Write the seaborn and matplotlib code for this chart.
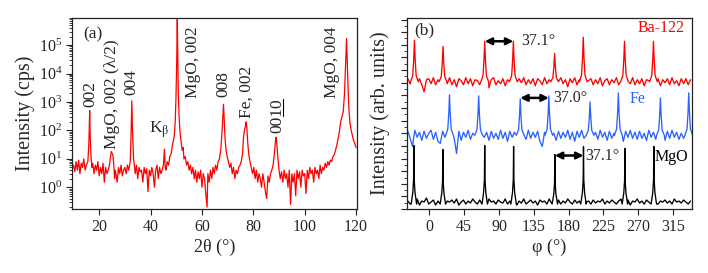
import numpy as np
import pandas as pd
import matplotlib
matplotlib.use("Agg")
import matplotlib.pyplot as plt
import seaborn as sns
from matplotlib.ticker import MultipleLocator, AutoMinorLocator, LogLocator, NullFormatter
from matplotlib.transforms import blended_transform_factory
from matplotlib.lines import Line2D

# ---------------- panel (a): 2theta scan ----------------
two_theta = [10.0, 10.5, 11.0, 11.5, 12.0, 12.5, 13.0, 13.5, 14.0, 14.5, 15.0,
             15.6, 16.0, 16.3, 16.5, 16.8, 17.2,
             17.5, 18.0, 18.5, 19.0, 19.5, 20.0, 20.5, 21.0, 21.5, 22.0, 22.5, 23.0, 23.5, 24.0,
             24.3, 24.7, 25.0, 25.3, 25.7, 26.0, 26.3,
             26.5, 27.0, 27.5, 28.0, 28.5, 29.0, 29.5, 30.0, 30.5, 31.0, 31.5,
             32.1, 32.4, 32.7, 33.0, 33.4, 33.8,
             34.0, 34.5, 35.0, 35.5, 36.0, 36.5, 37.0, 37.5, 38.0, 38.5, 39.0, 39.5, 40.0, 40.5,
             41.0, 41.5, 42.0, 42.5, 43.0, 43.5, 44.0, 44.5,
             45.0, 45.4, 45.7, 46.0, 46.5, 47.0, 47.5, 48.0, 48.5,
             49.2, 49.6, 49.9, 50.2, 50.4, 50.6, 50.8, 51.1, 51.5, 51.9, 52.3,
             52.7, 53.0, 53.5, 54.0, 54.5, 55.0, 55.5, 56.0, 56.5, 57.0, 57.5, 58.0, 58.5, 59.0,
             59.5, 60.0, 60.5, 61.0, 61.5, 62.0, 62.3, 62.8, 63.3, 63.8, 64.3, 64.8, 65.3, 65.8,
             66.3, 66.8, 67.3, 67.7, 68.1, 68.4, 68.7, 69.0, 69.4, 69.8,
             70.3, 70.8, 71.3, 71.8, 72.3, 72.8, 73.3, 73.8, 74.3, 74.8, 75.3, 75.8,
             76.2, 76.6, 77.0, 77.2, 77.5, 77.8, 78.2, 78.7,
             79.2, 79.7, 80.2, 80.7, 81.2, 81.7, 82.2, 82.7, 83.2, 83.7, 84.2, 84.7, 85.2, 85.7,
             86.2, 86.7, 87.2, 87.7, 88.2, 88.6, 88.9, 89.2, 89.6,
             90.0, 90.5, 91.0, 91.5, 92.0, 92.5, 93.0, 93.5, 94.0, 94.5, 95.0, 95.5, 96.0, 96.5,
             97.0, 97.5, 98.0, 98.5, 99.0, 99.5, 100.0, 100.5, 101.0, 101.5, 102.0, 102.5, 103.0,
             103.5, 104.0, 104.5, 105.0, 105.5, 106.0, 106.5, 107.0, 107.5, 108.0, 108.5, 109.0,
             109.5, 110.0, 110.5, 111.0, 111.5, 112.0, 112.5, 113.0, 113.5, 114.0, 114.5, 115.0,
             115.5, 115.9, 116.3, 116.6, 116.9, 117.2, 117.6, 118.0, 118.5, 119.0, 119.5, 120.0]
intensity = [6, 3.5, 8, 4, 9, 3, 7, 5, 10, 4, 6,
             8, 40, 500, 60, 12, 5,
             7, 3, 6, 4, 8, 2.5, 5, 3, 7, 1.5, 5, 3, 4, 6,
             10, 18, 16, 14, 6, 2, 4,
             3, 1.5, 5, 3, 6, 2.5, 4, 5, 3, 6, 4,
             8, 60, 1100, 80, 10, 5,
             3, 6, 2, 5, 3.5, 4, 1.5, 5, 3, 4.5, 0.7, 4, 2.5, 5,
             3, 1, 4, 6, 2, 5, 3, 4,
             6, 22, 5, 4, 8, 6, 12, 15, 30,
             60, 200, 1500, 30000, 800000, 30000, 2000, 300, 80, 40, 20,
             25, 10, 12, 6, 8, 4, 6, 3, 5, 2, 4, 1.5, 3.5, 2,
             4, 1, 3, 2, 0.6, 0.2, 3, 1.5, 4, 2, 5, 3, 6, 4,
             8, 10, 20, 60, 250, 830, 200, 50, 20, 12,
             8, 5, 7, 3, 5, 2, 4, 3, 5, 6, 8, 15,
             60, 110, 150, 200, 120, 40, 15, 8,
             5, 3, 5, 2, 4, 1.5, 3, 2, 1, 3, 1.5, 0.7, 0.4, 2.5,
             1.5, 3, 4, 6, 15, 40, 58, 30, 10,
             4, 2, 3.5, 1.5, 4, 2, 3, 1, 4, 0.25, 3, 1.5, 3, 0.5,
             4, 2, 3.5, 1, 4, 2.5, 3, 0.6, 4, 2, 5, 3, 4,
             1.5, 5, 3, 4, 2, 6, 3, 5, 4, 7, 5, 8,
             6, 9, 8, 12, 14, 20, 30, 50, 90, 200, 300, 450,
             2000, 20000, 170000, 20000, 3000, 600, 200, 110, 70, 45, 35, 25]

# reflection labels: text, 2theta position, bottom of label in axes fraction
a_labels = ["002", "MgO, 002 (λ/2)", "004", "MgO, 002", "008", "Fe, 002", "MgO, 004"]
a_label_x = [16.4, 25.1, 32.6, 56.6, 68.2, 77.5, 110.7]
a_label_y = [0.534, 0.314, 0.597, 0.581, 0.586, 0.476, 0.581]

# ---------------- panel (b): phi scans ----------------
phi_grid = np.arange(-28, 340, 3.0)

red_noise = [0.3, -0.2, 0.4, -0.4, 0.1, 0.3, -0.3, -1.0, 0.2, 0.3,
             -0.2, 0.4, -0.3, 0.2, 0.3, -0.4, 0.1, -0.2, 0.4, -0.3,
             0.2, -0.5, 0.3, 0.1, -0.3, 0.4, -0.2, 0.3, -0.4, 0.2,
             0.1, -0.3, 0.4, -0.2, 0.3, -0.6, 0.2, 0.4, -0.3, 0.1,
             -0.2, 0.3, -0.4, 0.2, 0.4, -0.3, 0.1, -0.5, 0.3, -0.1,
             0.4, -0.3, 0.2, -0.2, 0.3, -0.4, 0.3, 0.1, -0.3, 0.4,
             -0.2, 0.2, -0.4, 0.3, 0.1, -0.3, 0.4, -0.2, 0.2, -0.5,
             0.3, -0.1, 0.4, -0.3, 0.2, -0.2, 0.3, -0.4, 0.1, 0.3,
             -0.3, 0.2, -0.2, 0.4, -0.4, 0.1, 0.3, -0.3, 0.2, -0.1,
             0.4, -0.3, 0.2, -0.5, 0.3, 0.1, -0.2, 0.4, -0.3, 0.2,
             -0.2, 0.3, -0.4, 0.2, 0.1, -0.3, 0.4, -0.2, 0.3, -0.4,
             0.2, -0.1, 0.3, -0.3, 0.4, -0.2, 0.1, -0.4, 0.3, -0.2,
             0.3, -0.3, 0.2]
blue_noise = [0.4, -0.3, -1.1, 0.5, -0.2, 0.3, -0.5, 0.4, -0.3, 0.2,
              0.5, -0.4, 0.3, -0.6, -0.8, 0.4, -0.2, 0.5, -0.4, 0.3,
              -0.3, -1.8, 0.4, -0.5, 0.3, -0.2, 0.5, -0.4, 0.2, -0.6,
              0.4, -0.3, 0.5, -0.2, 0.3, -0.5, 0.4, -0.3, 0.2, -0.4,
              0.5, -0.3, 0.3, -0.6, 0.4, -0.2, 0.3, -0.5, 0.4, -0.3,
              0.2, -0.4, 0.5, -0.3, 0.3, -0.2, 0.4, -0.6, -1.1, 0.3,
              -0.3, 0.5, -0.4, 0.2, -0.5, 0.4, -0.3, 0.3, -0.2, 0.5,
              -0.4, 0.3, -0.6, 0.4, -0.2, 0.5, -0.3, 0.2, -0.5, 0.4,
              -0.3, 0.3, -0.4, 0.5, -0.2, 0.3, -0.5, 0.4, -0.3, 0.2,
              0.5, -0.4, 0.3, -0.6, 0.4, -0.2, 0.5, -0.3, 0.3, -0.4,
              0.4, -0.3, 0.2, -0.5, 0.5, -0.2, 0.3, -0.4, 0.4, -0.3,
              0.2, -0.5, 0.4, -0.3, 0.5, -0.2, 0.3, -0.4, 0.2, -0.3,
              0.4, -0.2, 0.3]
black_noise = [0.3, 0.0, 0.4, 0.1, 0.5, -0.1, 0.3, 0.2, 0.6, 0.0,
               0.2, 0.4, -0.1, 0.3, 0.1, 0.5, 0.0, 0.3, 0.2, 0.4,
               0.1, 0.5, -0.1, 0.2, 0.4, 0.0, 0.3, 0.1, 0.5, 0.2,
               0.0, 0.4, 0.1, 0.3, -0.1, 0.5, 0.2, 0.3, 0.0, 0.4,
               0.2, 0.1, 0.5, 0.0, 0.3, 0.2, 0.4, -0.1, 0.3, 0.1,
               0.5, 0.0, 0.2, 0.4, 0.1, 0.3, -0.1, 0.4, 0.2, 0.3,
               0.0, 0.5, 0.1, 0.3, 0.2, 0.4, 0.0, 0.3, 0.1, 0.5,
               0.2, 0.0, 0.4, 0.1, 0.3, -0.1, 0.5, 0.2, 0.3, 0.0,
               0.4, 0.1, 0.3, 0.2, 0.5, 0.0, 0.3, 0.1, 0.4, 0.2,
               0.0, 0.3, 0.5, 0.1, 0.2, 0.4, -0.1, 0.3, 0.2, 0.5,
               0.1, 0.3, 0.0, 0.4, 0.2, 0.3, 0.1, 0.5, 0.0, 0.3,
               0.2, 0.4, 0.1, 0.3, 0.0, 0.5, 0.2, 0.3, 0.1, 0.4,
               0.2, 0.0, 0.3]

red_level, blue_level, black_level = 12.6, 7.3, 0.5
red_centers = [-19.5, 17.5, 71.5, 108.6, 162.0, 199.1, 252.5, 290.0]
red_heights = [4.1, 3.5, 4.0, 4.0, 2.8, 4.4, 4.0, 4.0]
blue_centers = [25.9, 63.7, 117.5, 154.5, 207.9, 244.5, 299.0, 335.7]
blue_heights = [4.0, 3.9, 3.6, 3.9, 3.3, 4.2, 3.7, 4.2]
black_centers = [-20.2, 17.3, 71.5, 108.9, 162.3, 199.4, 253.0, 290.5]
black_heights = [5.8, 5.4, 5.8, 5.7, 4.9, 5.7, 5.5, 5.7]

# peak drawing shapes (style)
film_offs = [-5.0, -2.2, -0.9, 0.0, 0.9, 2.2, 5.0]
film_fracs = [0.0, 0.15, 0.55, 1.0, 0.55, 0.15, 0.0]
sub_offs = [-3.5, -1.4, -0.4, 0.0, 0.4, 1.4, 3.5]
sub_fracs = [0.0, 0.2, 0.42, 1.0, 0.42, 0.2, 0.0]


def build_scan(level, noise, centers, heights, offs, fracs):
    noise = np.asarray(noise, dtype=float)
    keep = np.ones(len(phi_grid), dtype=bool)
    for c in centers:
        keep &= np.abs(phi_grid - c) > offs[-1]
    xs = list(phi_grid[keep])
    ys = list(level + noise[keep])
    for c, h in zip(centers, heights):
        for o, f in zip(offs, fracs):
            xs.append(c + o)
            ys.append(level + f * h)
    df = pd.DataFrame({"phi": xs, "I": ys}).sort_values("phi")
    return df


RED = "#ff0000"
BLUE = "#2a63ff"

sns.set_theme(style="ticks")
plt.rcParams["font.family"] = ["Liberation Serif", "DejaVu Serif"]
plt.rcParams["mathtext.fontset"] = "stix"
plt.rcParams["axes.edgecolor"] = "#222222"
plt.rcParams["axes.linewidth"] = 0.9

fig = plt.figure(figsize=(7.08, 2.73), dpi=100)
axa = fig.add_axes([0.102, 0.234, 0.402, 0.700])
axb = fig.add_axes([0.575, 0.234, 0.4025, 0.700])

# ---- panel (a)
dfa = pd.DataFrame({"tt": two_theta, "I": intensity})
sns.lineplot(data=dfa, x="tt", y="I", ax=axa, color=RED, lw=0.9,
             estimator=None, sort=False)
axa.set_yscale("log")
axa.set_xlim(9.5, 120.3)
axa.set_ylim(0.17, 9e5)
axa.set_xticks([20, 40, 60, 80, 100, 120])
axa.yaxis.set_major_locator(LogLocator(base=10, numticks=20))
axa.yaxis.set_minor_locator(LogLocator(base=10, subs=np.arange(2, 10), numticks=50))
axa.yaxis.set_minor_formatter(NullFormatter())
axa.tick_params(axis="both", which="major", direction="out", length=4, width=0.8,
                labelsize=11.5, color="#222222", pad=3)
axa.tick_params(axis="y", which="minor", direction="out", length=2, width=0.6, color="#222222")
axa.set_xlabel("2θ (°)", fontsize=13, labelpad=3)
axa.set_ylabel("Intensity (cps)", fontsize=14.5, labelpad=3)

trA = blended_transform_factory(axa.transData, axa.transAxes)
axa.text(13.7, 0.915, "(a)", transform=trA, ha="left", va="center", fontsize=12.5)
for lab, lx, ly in zip(a_labels, a_label_x, a_label_y):
    axa.text(lx, ly, lab, transform=trA, rotation=90, ha="center", va="bottom", fontsize=12.5)
axa.text(43.4, 0.414, r"K$_{\mathrm{\beta}}$", transform=trA, ha="center", va="center",
         fontsize=12.5)
t0010 = axa.text(89.2, 0.398, "0010", transform=trA, rotation=90, ha="center",
                 va="bottom", fontsize=12.5)

# ---- panel (b)
scans = [
    (build_scan(black_level, black_noise, black_centers, black_heights, sub_offs, sub_fracs), "black"),
    (build_scan(blue_level, blue_noise, blue_centers, blue_heights, film_offs, film_fracs), BLUE),
    (build_scan(red_level, red_noise, red_centers, red_heights, film_offs, film_fracs), RED),
]
for df, col in scans:
    sns.lineplot(data=df, x="phi", y="I", ax=axb, color=col, lw=0.95,
                 estimator=None, sort=False)
axb.set_xlim(-29, 340)
axb.set_ylim(0, 18.9)
axb.set_xticks([0, 45, 90, 135, 180, 225, 270, 315])
axb.yaxis.set_major_locator(MultipleLocator(1.25))
axb.yaxis.set_minor_locator(AutoMinorLocator(2))
axb.tick_params(axis="y", which="both", labelleft=False)
axb.tick_params(axis="both", which="major", direction="out", length=4, width=0.8,
                labelsize=11.5, color="#222222", pad=3)
axb.tick_params(axis="y", which="minor", direction="out", length=2, width=0.6, color="#222222")
axb.set_xlabel("φ (°)", fontsize=13, labelpad=3)
axb.set_ylabel("Intensity (arb. units)", fontsize=14.5, labelpad=8)

axb.text(0.025, 0.937, "(b)", transform=axb.transAxes, ha="left", va="center", fontsize=12.5)
axb.text(0.975, 0.947, "Ba-122", transform=axb.transAxes, ha="right", va="center",
         fontsize=11.5, color=RED)
axb.text(0.81, 0.577, "Fe", transform=axb.transAxes, ha="center", va="center",
         fontsize=11.5, color=BLUE)
axb.text(0.929, 0.275, "MgO", transform=axb.transAxes, ha="center", va="center",
         fontsize=11.5, color="black")

arrows = [
    (red_centers[2], red_centers[3], 16.6, "37.1°", 10),
    (blue_centers[2], blue_centers[3], 11.0, "37.0°", 6),
    (black_centers[4], black_centers[5], 5.3, "37.1°", 2),
]
for x0, x1, yy, lab, gap in arrows:
    axb.annotate("", xy=(x1, yy), xytext=(x0, yy),
                 arrowprops=dict(arrowstyle="<|-|>", color="black", lw=1.8,
                                 mutation_scale=10, shrinkA=0, shrinkB=0))
    axb.text(x1 + gap, yy, lab, ha="left", va="center", fontsize=11.5)

# underline the "10" of the 0010 label
fig.canvas.draw()
bb = t0010.get_window_extent(renderer=fig.canvas.get_renderer())
inv = fig.transFigure.inverted()
ux = bb.x1 - 1.5
p0 = inv.transform((ux, bb.y0 + bb.height * 0.5))
p1 = inv.transform((ux, bb.y1 - 0.5))
fig.add_artist(Line2D([p0[0], p1[0]], [p0[1], p1[1]], transform=fig.transFigure,
                      color="black", lw=0.8))

fig.savefig("out.png", dpi=100)
